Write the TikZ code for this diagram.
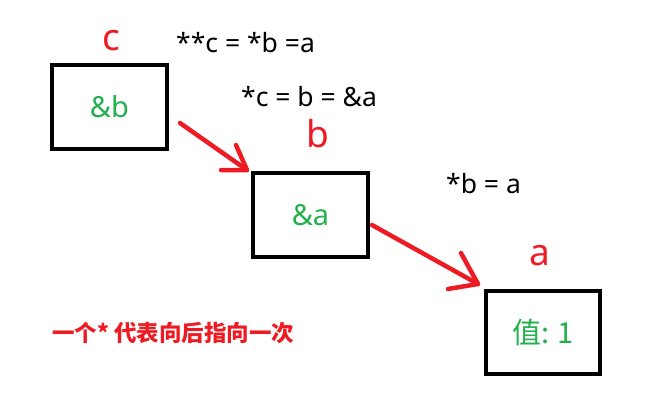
\documentclass[tikz,border=0pt]{standalone}
\usepackage{fontspec}
\setmainfont{Noto Sans}
\newfontfamily\cjk{Noto Sans CJK SC}
\definecolor{pred}{RGB}{237,28,36}
\definecolor{pgreen}{RGB}{34,177,76}
\begin{document}
\begin{tikzpicture}[x=1pt,y=-1pt,
  memcell/.style={draw=black,line width=4.5pt,minimum width=115pt,minimum height=84pt,inner sep=0pt,outer sep=0pt,text=pgreen,font=\fontsize{29}{32}\selectfont},
  varname/.style={text=pred,font=\fontsize{37}{40}\selectfont,anchor=base,inner sep=0pt},
  expr/.style={text=black,font=\fontsize{26.5}{30}\selectfont,anchor=base west,inner sep=0pt},
  ptr/.style={draw=pred,line width=4.5pt,line cap=round,line join=round}]
\useasboundingbox (0,0) rectangle (657,402);
\node[memcell] (c) at (109.5,107) {\&b};
\node[memcell] (b) at (310.5,215) {\&a};
\node[memcell,minimum width=114pt,minimum height=83pt] (a) at (543,332.5) {\cjk 值: 1\hspace{9pt}};
\node[varname] (lc) at (111,50) {c};
\node[varname] (lb) at (318,147) {b};
\node[varname] (la) at (540,265) {a};
\node[expr] (e1) at (176,52) {**c = *b =a};
\node[expr] (e2) at (241,106) {*c = b = \&a};
\node[expr] (e3) at (446,193) {*b = a};
\node[anchor=base west,inner sep=0pt,text=pred,font=\cjk\bfseries\fontsize{22.5}{26}\selectfont] (note) at (52,341) {一个* 代表向后指向一次};
\coordinate (s1) at (180,123);
\coordinate (t1) at (247,170);
\coordinate (h1a) at (236,145);
\coordinate (h1b) at (221,170);
\coordinate (s2) at (372,225);
\coordinate (t2) at (478,284);
\coordinate (h2a) at (461,253);
\coordinate (h2b) at (448,289);
\draw[ptr] (s1) -- (t1);
\draw[ptr] (h1a) -- (t1) -- (h1b);
\draw[ptr] (s2) -- (t2);
\draw[ptr] (h2a) -- (t2) -- (h2b);
\end{tikzpicture}
\end{document}
